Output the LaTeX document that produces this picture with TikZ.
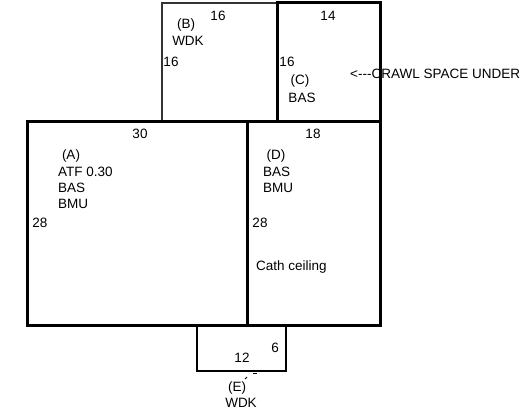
\documentclass[tikz,border=0pt]{standalone}
\usepackage{fontspec}
\setmainfont{Liberation Sans}
\tikzset{
    wall/.style={line width=3pt},
    deck/.style={line width=1.6pt},
    lbl/.style={inner sep=0pt, font=\fontsize{13.5}{13.5}\selectfont},
    lblleft/.style={lbl, anchor=west},
}

\begin{document}
\begin{tikzpicture}[x=1pt, y=-1pt]
    \useasboundingbox (0, 0) rectangle (529, 409);
    % decks
    \draw[deck, black!80] (162, 121) -- (162, 3) -- (277, 3);
    \draw[deck] (197, 325) -- (197, 371) -- (286, 371) -- (286, 325);
    % house
    \draw[wall] (27, 121) rectangle (380, 325);
    \draw[wall] (247, 121) -- (247, 325);
    \draw[wall] (277, 121) -- (277, 3) -- (380, 3) -- (380, 121);
    % room B
    \node[lbl] (lenBtop) at (218, 16) {16};
    \node[lbl] (nameB) at (186, 25) {(B)};
    \node[lbl] (typeB) at (188, 41) {WDK};
    \node[lbl] (lenBside) at (171, 62) {16};
    % room C
    \node[lbl] (lenCtop) at (328, 16) {14};
    \node[lbl] (lenCside) at (287, 62) {16};
    \node[lbl] (nameC) at (300, 81) {(C)};
    \node[lbl] (typeC) at (302, 98) {BAS};
    \node[lblleft] (crawl) at (350, 74) {<{-}{-}{-}CRAWL SPACE UNDER};
    % room A
    \node[lbl] (lenAtop) at (140, 134) {30};
    \node[lbl] (nameA) at (71, 156) {(A)};
    \node[lblleft] (typeA) at (58, 172) {ATF 0.30};
    \node[lblleft] (basA) at (58, 188) {BAS};
    \node[lblleft] (bmuA) at (58, 204) {BMU};
    \node[lbl] (lenAside) at (40, 223) {28};
    % room D
    \node[lbl] (lenDtop) at (313, 134) {18};
    \node[lbl] (nameD) at (276, 156) {(D)};
    \node[lblleft] (basD) at (263, 172) {BAS};
    \node[lblleft] (bmuD) at (263, 188) {BMU};
    \node[lbl] (lenDside) at (260, 223) {28};
    \node[lblleft] (cath) at (256, 267) {Cath ceiling};
    % room E
    \node[lbl] (lenEside) at (275, 348) {6};
    \node[lbl] (lenEbot) at (242, 358) {12};
    \node[lbl] (nameE) at (237, 388) {(E)};
    \node[lbl] (typeE) at (241, 403) {WDK};
    \draw[line width=1pt] (253, 373.5) -- (257, 373.5);
    \draw[line width=.8pt] (245, 379) -- (247, 377);
\end{tikzpicture}
\end{document}
